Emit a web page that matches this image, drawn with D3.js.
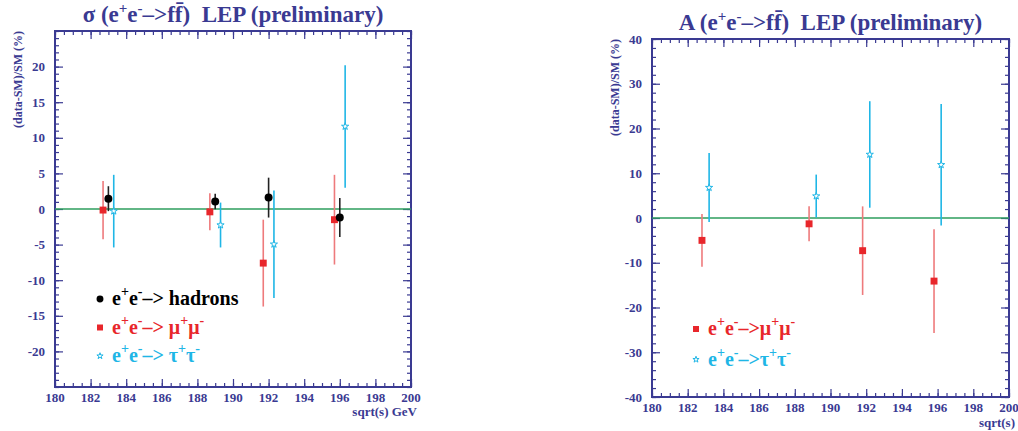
<!DOCTYPE html>
<html>
<head>
<meta charset="utf-8">
<script src="https://cdn.jsdelivr.net/npm/d3@7"></script>
<style>
  body { margin: 0; background: #fff; }
  svg { display: block; }
</style>
</head>
<body>
<svg id="chart" width="1018" height="431"></svg>
<script>
// ---- data ----
// cross section panel
const hadX = [183.0, 189.0, 192.0, 196.0];
const hadY = [1.45, 1.05, 1.6, -1.2];
const hadErr = [1.75, 1.1, 2.8, 2.75];

const muX = [182.7, 188.7, 191.7, 195.7];
const muY = [-0.15, -0.4, -7.6, -1.5];
const muErr = [4.1, 2.6, 6.1, 6.3];

const tauX = [183.3, 189.3, 192.3, 196.3];
const tauY = [-0.3, -2.25, -4.95, 11.6];
const tauErr = [5.1, 3.15, 7.55, 8.6];

// asymmetry panel
const aMuX = [182.8, 188.8, 191.8, 195.8];
const aMuY = [-5.0, -1.3, -7.3, -14.1];
const aMuErr = [5.9, 3.9, 9.9, 11.6];

const aTauX = [183.2, 189.2, 192.2, 196.2];
const aTauY = [6.8, 4.9, 14.2, 11.9];
const aTauErr = [7.7, 4.8, 11.9, 13.6];

const xTicks = [180, 182, 184, 186, 188, 190, 192, 194, 196, 198, 200];
const sigmaTicks = [-20, -15, -10, -5, 0, 5, 10, 15, 20];
const asymTicks = [-40, -30, -20, -10, 0, 10, 20, 30, 40];

const serif = "\"Liberation Serif\"";
const navy = "#3a3a92";
const red = "#e8262b";
const redBar = "#ee7a7c";
const cyan = "#1fb6e6";
const green = "#2e9e5e";

const svg = d3.select("#chart");

function zip(xs, ys, es) {
  return xs.map((x, i) => ({ x: x, y: ys[i], e: es[i] }));
}

function txt(g) {
  return g.append("text").style("font-family", serif).style("font-weight", "bold");
}

function drawPanel(p) {
  const x = d3.scaleLinear().domain([180, 200]).range([p.left, p.right]);
  const y = d3.scaleLinear().domain(p.yDomain).range([p.bottom, p.top]);
  const g = svg.append("g");

  // frame ticks, all four sides, pointing inward
  const xMinor = d3.range(180, 200.01, 0.5);
  const yMinor = d3.range(p.yDomain[0], p.yDomain[1] + 0.01, p.yMinor);
  const axes = [
    [d3.axisBottom(x), `translate(0,${p.bottom})`, xTicks, xMinor],
    [d3.axisTop(x), `translate(0,${p.top})`, xTicks, xMinor],
    [d3.axisLeft(y), `translate(${p.left},0)`, p.yTicks, yMinor],
    [d3.axisRight(y), `translate(${p.right},0)`, p.yTicks, yMinor]
  ];
  axes.forEach(([ax, tr, major, minor]) => {
    g.append("g").attr("transform", tr)
      .call(ax.tickValues(minor).tickSize(-4).tickFormat(""))
      .call(s => s.select(".domain").remove());
    g.append("g").attr("transform", tr)
      .call(ax.tickValues(major).tickSize(-8).tickFormat("").tickSizeOuter(0))
      .call(s => s.select(".domain").remove());
  });
  g.selectAll(".tick line").attr("stroke", navy).attr("stroke-width", 1.2);

  g.append("rect")
    .attr("x", p.left).attr("y", p.top)
    .attr("width", p.right - p.left).attr("height", p.bottom - p.top)
    .attr("fill", "none").attr("stroke", navy).attr("stroke-width", 2);

  // tick labels
  xTicks.forEach(d => {
    txt(g).attr("x", x(d)).attr("y", p.bottom + 15)
      .attr("text-anchor", "middle").style("font-size", "13px").attr("fill", navy)
      .text(d);
  });
  p.yTicks.forEach(d => {
    txt(g).attr("x", p.left - 10).attr("y", y(d) + 4.5)
      .attr("text-anchor", "end").style("font-size", "13px").attr("fill", navy)
      .text(d);
  });

  // axis titles
  txt(g)
    .attr("transform", `translate(${p.left - 33},${p.top}) rotate(-90)`)
    .attr("text-anchor", "end").style("font-size", "12px").attr("fill", navy)
    .text("(data-SM)/SM (%)");
  txt(g)
    .attr("x", p.right + 6).attr("y", p.xTitleY)
    .attr("text-anchor", "end").style("font-size", "13px").attr("fill", navy)
    .text(p.xTitle);

  // title
  const t = txt(g)
    .attr("x", (p.left + p.right) / 2).attr("y", p.titleY)
    .attr("text-anchor", "middle").style("font-size", "23px").attr("fill", navy);
  t.append("tspan").text(p.titleLead + " (e");
  t.append("tspan").attr("dy", -9).style("font-size", "15px").text("+");
  t.append("tspan").attr("dy", 9).text("e");
  t.append("tspan").attr("dy", -9).style("font-size", "15px").text("-");
  t.append("tspan").attr("dy", 9).text("\u2013>ff\u0304)\u00a0 LEP (preliminary)");

  // zero line
  g.append("line")
    .attr("x1", p.left).attr("x2", p.right)
    .attr("y1", y(0)).attr("y2", y(0))
    .attr("stroke", green).attr("stroke-width", 1.3);

  p.series.forEach(s => {
    const pts = zip(s.xs, s.ys, s.es);
    g.selectAll(null).data(pts).join("line")
      .attr("x1", d => x(d.x)).attr("x2", d => x(d.x))
      .attr("y1", d => y(d.y - d.e)).attr("y2", d => y(d.y + d.e))
      .attr("stroke", s.bar).attr("stroke-width", 1.6);
    g.selectAll(null).data(pts).join("path")
      .attr("transform", d => `translate(${x(d.x)},${y(d.y)})`)
      .attr("d", d3.symbol().type(s.symbol).size(s.size))
      .attr("fill", s.fill).attr("stroke", s.stroke).attr("stroke-width", s.sw);
  });

  // legend
  p.legend.forEach((l, i) => {
    const ly = p.legY + i * p.legStep;
    g.append("path")
      .attr("transform", `translate(${p.legX},${ly - 6})`)
      .attr("d", d3.symbol().type(l.s.symbol).size(l.s.size * 0.75))
      .attr("fill", l.s.fill).attr("stroke", l.s.stroke).attr("stroke-width", l.s.sw);
    const lt = txt(g)
      .attr("x", p.legX + 12).attr("y", ly)
      .style("font-size", p.legSize + "px").attr("fill", l.color);
    lt.append("tspan").text("e");
    lt.append("tspan").attr("dy", -9).style("font-size", "14px").text("+");
    lt.append("tspan").attr("dy", 9).text("e");
    lt.append("tspan").attr("dy", -9).style("font-size", "14px").text("-");
    lt.append("tspan").attr("dy", 9).text(l.mid);
    if (l.particle) {
      lt.append("tspan").text(l.particle);
      lt.append("tspan").attr("dy", -9).style("font-size", "14px").text("+");
      lt.append("tspan").attr("dy", 9).text(l.particle);
      lt.append("tspan").attr("dy", -9).style("font-size", "14px").text("-");
    }
  });
}

const hadS = { symbol: d3.symbolCircle, size: 50, fill: "#000", stroke: "#000", sw: 0, bar: "#222" };
const muS = { symbol: d3.symbolSquare, size: 48, fill: red, stroke: red, sw: 0, bar: redBar };
const tauS = { symbol: d3.symbolStar, size: 16, fill: "#fff", stroke: cyan, sw: 1, bar: cyan };

drawPanel({
  left: 55, right: 411, top: 31, bottom: 387,
  yDomain: [-25, 25], yTicks: sigmaTicks, yMinor: 1,
  titleLead: "\u03c3", titleY: 22,
  xTitle: "sqrt(s) GeV", xTitleY: 416,
  series: [
    Object.assign({ xs: muX, ys: muY, es: muErr }, muS),
    Object.assign({ xs: tauX, ys: tauY, es: tauErr }, tauS),
    Object.assign({ xs: hadX, ys: hadY, es: hadErr }, hadS)
  ],
  legX: 100, legY: 305, legStep: 28.5, legSize: 20,
  legend: [
    { s: hadS, color: "#000", mid: "\u2013> hadrons" },
    { s: muS, color: red, mid: "\u2013> ", particle: "\u03bc" },
    { s: tauS, color: cyan, mid: "\u2013> ", particle: "\u03c4" }
  ]
});

drawPanel({
  left: 652, right: 1009, top: 39, bottom: 397,
  yDomain: [-40, 40], yTicks: asymTicks, yMinor: 2,
  titleLead: "A", titleY: 30,
  xTitle: "sqrt(s)", xTitleY: 427,
  series: [
    Object.assign({ xs: aMuX, ys: aMuY, es: aMuErr }, muS),
    Object.assign({ xs: aTauX, ys: aTauY, es: aTauErr }, tauS)
  ],
  legX: 696, legY: 335, legStep: 30.5, legSize: 20,
  legend: [
    { s: muS, color: red, mid: "\u2013>", particle: "\u03bc" },
    { s: tauS, color: cyan, mid: "\u2013>", particle: "\u03c4" }
  ]
});
</script>
</body>
</html>
